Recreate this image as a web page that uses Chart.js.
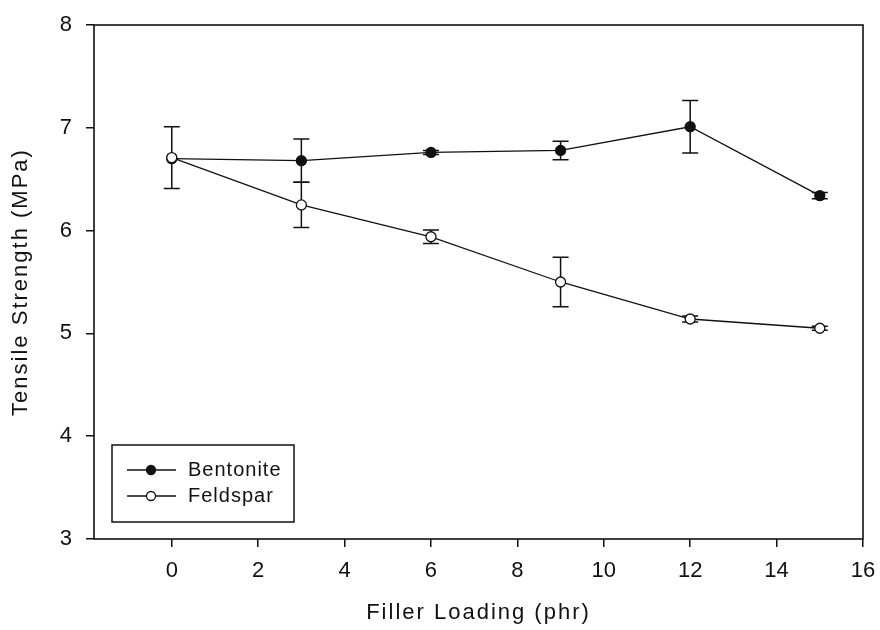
<!DOCTYPE html>
<html>
<head>
<meta charset="utf-8">
<title>Tensile Strength vs Filler Loading</title>
<script src="https://cdn.jsdelivr.net/npm/chart.js@4/dist/chart.umd.min.js"></script>
<style>
  html, body { margin: 0; padding: 0; background: #fff; }
  #wrap { width: 880px; height: 630px; }
</style>
</head>
<body>
<div id="wrap"><canvas id="grafico" width="880" height="630"></canvas></div>
<script>
// filler loading (phr)
const loading = [0, 3, 6, 9, 12, 15];

// tensile strength (MPa) and error (+/-)
const bentonite = [6.70, 6.68, 6.76, 6.78, 7.01, 6.34];
const bentoniteErr = [0, 0.21, 0.02, 0.09, 0.255, 0.03];
const feldspar = [6.71, 6.25, 5.94, 5.50, 5.14, 5.05];
const feldsparErr = [0.30, 0.22, 0.065, 0.24, 0.03, 0.02];

const xTicks = [0, 2, 4, 6, 8, 10, 12, 14, 16];
const yTicks = [3, 4, 5, 6, 7, 8];

const FONT = "'Liberation Sans', Arial, sans-serif";
const INK = '#111';

const series = [
  { label: 'Bentonite', values: bentonite, err: bentoniteErr, fill: INK },
  { label: 'Feldspar', values: feldspar, err: feldsparErr, fill: '#fff' }
];

// titles a bit spaced out like the original render
const espacamento = {
  id: 'espacamento',
  beforeDraw(chart) { chart.ctx.letterSpacing = '2px'; },
  beforeDatasetsDraw(chart) { chart.ctx.letterSpacing = '0px'; }
};

const barrasErro = {
  id: 'barrasErro',
  beforeDatasetsDraw(chart) {
    const { ctx, scales: { x, y } } = chart;
    ctx.save();
    ctx.strokeStyle = INK;
    ctx.lineWidth = 1.5;
    series.forEach(s => {
      loading.forEach((v, i) => {
        if (!s.err[i]) return;
        const px = x.getPixelForValue(v);
        const top = y.getPixelForValue(s.values[i] + s.err[i]);
        const bot = y.getPixelForValue(s.values[i] - s.err[i]);
        ctx.beginPath();
        ctx.moveTo(px, top); ctx.lineTo(px, bot);
        ctx.moveTo(px - 8, top); ctx.lineTo(px + 8, top);
        ctx.moveTo(px - 8, bot); ctx.lineTo(px + 8, bot);
        ctx.stroke();
      });
    });
    ctx.restore();
  }
};

const moldura = {
  id: 'moldura',
  afterDraw(chart) {
    const { ctx, chartArea: a } = chart;
    ctx.save();
    ctx.strokeStyle = INK;
    ctx.lineWidth = 1.6;
    ctx.strokeRect(a.left, a.top, a.right - a.left, a.bottom - a.top);

    // legend box, lower left corner of the plot
    const bx = a.left + 18, by = a.bottom - 94, bw = 182, bh = 77;
    ctx.lineWidth = 1.5;
    ctx.strokeRect(bx, by, bw, bh);
    ctx.font = '20px ' + FONT;
    ctx.letterSpacing = '1px';
    ctx.textBaseline = 'middle';
    ctx.fillStyle = INK;
    series.forEach((s, i) => {
      const cy = by + 25 + i * 26;
      ctx.beginPath();
      ctx.lineWidth = 1.3;
      ctx.moveTo(bx + 15, cy); ctx.lineTo(bx + 64, cy);
      ctx.stroke();
      ctx.beginPath();
      ctx.arc(bx + 39, cy, 4.5, 0, Math.PI * 2);
      ctx.fillStyle = s.fill;
      ctx.fill();
      ctx.stroke();
      ctx.fillStyle = INK;
      ctx.fillText(s.label, bx + 76, cy);
    });
    ctx.restore();
  }
};

const ctx = document.getElementById('grafico').getContext('2d');
new Chart(ctx, {
  type: 'line',
  data: {
    datasets: series.map((s, i) => ({
      label: s.label,
      data: loading.map((v, k) => ({ x: v, y: s.values[k] })),
      borderColor: INK,
      borderWidth: 1.3,
      pointRadius: 5,
      pointBorderWidth: 1.3,
      pointBorderColor: INK,
      pointBackgroundColor: s.fill,
      tension: 0,
      fill: false,
      order: i === 1 ? 0 : 1
    }))
  },
  options: {
    responsive: false,
    devicePixelRatio: 1,
    animation: false,
    layout: { padding: { left: 0, top: 25, right: 17, bottom: 0 } },
    plugins: {
      legend: { display: false },
      tooltip: { enabled: false }
    },
    scales: {
      x: {
        type: 'linear',
        min: -1.8,
        max: 16,
        afterBuildTicks: sc => { sc.ticks = xTicks.map(v => ({ value: v })); },
        afterFit: sc => { sc.height = 91; sc.paddingLeft = 0; sc.paddingRight = 0; },
        grid: { drawOnChartArea: false, color: INK, lineWidth: 1.5, tickLength: 8 },
        border: { display: false },
        ticks: { z: 1, color: INK, padding: 11, font: { family: FONT, size: 22 } },
        title: {
          display: true,
          text: 'Filler Loading (phr)',
          color: INK,
          padding: { top: 0, bottom: 4 },
          font: { family: FONT, size: 22 }
        }
      },
      y: {
        type: 'linear',
        min: 3,
        max: 8,
        afterBuildTicks: sc => { sc.ticks = yTicks.map(v => ({ value: v })); },
        afterFit: sc => { sc.width = 94; sc.paddingTop = 0; sc.paddingBottom = 0; },
        grid: { drawOnChartArea: false, color: INK, lineWidth: 1.5, tickLength: 8 },
        border: { display: false },
        ticks: { z: 1, color: INK, padding: 14, font: { family: FONT, size: 22 } },
        title: {
          display: true,
          text: 'Tensile Strength (MPa)',
          color: INK,
          padding: { top: 8, bottom: 0 },
          font: { family: FONT, size: 22 }
        }
      }
    }
  },
  plugins: [espacamento, barrasErro, moldura]
});
</script>
</body>
</html>
